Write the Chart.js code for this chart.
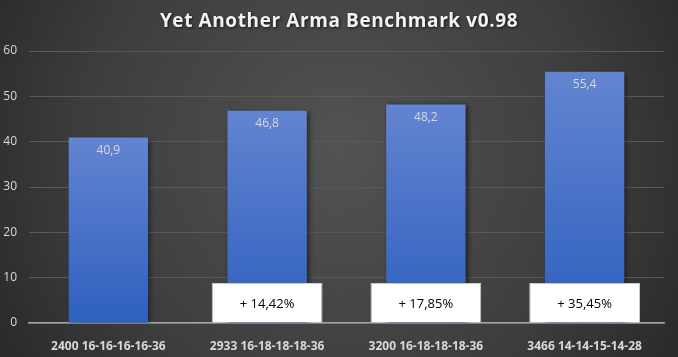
<!DOCTYPE html>
<html>
<head>
<meta charset="utf-8">
<script src="https://cdn.jsdelivr.net/npm/chart.js@4.4.1/dist/chart.umd.min.js"></script>
<style>
  html, body { margin: 0; padding: 0; background: #3a3a3a; }
  #wrap { width: 678px; height: 357px; position: relative; }
</style>
</head>
<body>
<div id="wrap"><canvas id="c" width="678" height="357"></canvas></div>
<script>
const titleText = 'Yet Another Arma Benchmark v0.98';
const categories = ['2400 16-16-16-16-36', '2933 16-18-18-18-36', '3200 16-18-18-18-36', '3466 14-14-15-14-28'];
const fpsValues = [40.9, 46.8, 48.2, 55.4];
const gainLabels = ['', '+ 14,42%', '+ 17,85%', '+ 35,45%'];
const gainBoxValues = [null, 8.8, 8.8, 8.8];
const yTicks = [0, 10, 20, 30, 40, 50, 60];

const fmt = v => v.toFixed(1).replace('.', ',');

const bgPlugin = {
  id: 'bg',
  beforeDraw(chart) {
    const { ctx, width, height } = chart;
    ctx.save();
    const g = ctx.createRadialGradient(width / 2, height * 0.42, 10, width / 2, height * 0.42, 420);
    g.addColorStop(0, '#525252');
    g.addColorStop(0.6, '#3d3d3d');
    g.addColorStop(1, '#262626');
    ctx.fillStyle = g;
    ctx.fillRect(0, 0, width, height);
    ctx.font = 'bold 19px "Open Sans"';
    ctx.letterSpacing = '0.6px';
    ctx.textAlign = 'center';
    ctx.textBaseline = 'middle';
    ctx.shadowColor = 'rgba(0,0,0,0.7)';
    ctx.shadowBlur = 3;
    ctx.shadowOffsetX = 1;
    ctx.shadowOffsetY = 1;
    ctx.fillStyle = '#f2f2f2';
    ctx.fillText(titleText, width / 2, 22);
    ctx.restore();
  }
};

const shadowPlugin = {
  id: 'barShadow',
  beforeDatasetDraw(chart, args) {
    if (args.index === 1) {
      const ctx = chart.ctx;
      ctx.save();
      ctx.shadowColor = 'rgba(0,0,0,0.55)';
      ctx.shadowBlur = 5;
      ctx.shadowOffsetX = 2;
      ctx.shadowOffsetY = 1;
    }
  },
  afterDatasetDraw(chart, args) {
    if (args.index === 1) chart.ctx.restore();
  }
};

const labelPlugin = {
  id: 'labels',
  afterDatasetsDraw(chart) {
    const ctx = chart.ctx;
    ctx.save();
    ctx.textAlign = 'center';
    ctx.textBaseline = 'middle';
    const blue = chart.getDatasetMeta(1);
    ctx.font = '12px "Open Sans"';
    ctx.fillStyle = '#d9d9d9';
    blue.data.forEach((bar, i) => {
      ctx.fillText(fmt(fpsValues[i]), bar.x, bar.y + 13);
    });
    const white = chart.getDatasetMeta(0);
    ctx.font = '13px "Open Sans"';
    ctx.fillStyle = '#000000';
    white.data.forEach((bar, i) => {
      if (gainBoxValues[i] == null) return;
      ctx.fillText(gainLabels[i], bar.x, (bar.y + bar.base) / 2 + 1);
    });
    ctx.restore();
  }
};

new Chart(document.getElementById('c'), {
  type: 'bar',
  data: {
    labels: categories,
    datasets: [
      {
        label: 'gain',
        data: gainBoxValues,
        backgroundColor: '#ffffff',
        borderColor: '#c8c8c8',
        borderWidth: 1,
        categoryPercentage: 1,
        barPercentage: 0.698,
        grouped: false,
        order: 0
      },
      {
        label: 'FPS',
        data: fpsValues,
        backgroundColor: (c) => {
          const chart = c.chart;
          const ys = chart.scales.y;
          if (!ys || !c.parsed) return '#4a74c8';
          const top = ys.getPixelForValue(c.parsed.y);
          const bottom = ys.getPixelForValue(0);
          if (!isFinite(top) || !isFinite(bottom) || top === bottom) return '#4a74c8';
          const g = chart.ctx.createLinearGradient(0, top, 0, bottom);
          g.addColorStop(0, '#6384d0');
          g.addColorStop(1, '#2e60bf');
          return g;
        },
        categoryPercentage: 1,
        barPercentage: 0.5,
        grouped: false,
        order: 1
      }
    ]
  },
  options: {
    responsive: false,
    animation: false,
    layout: { padding: { left: 0, right: 14, top: 51, bottom: 0 } },
    plugins: {
      legend: { display: false },
      tooltip: { enabled: false },
      title: { display: false }
    },
    scales: {
      x: {
        grid: { display: false },
        border: { display: true, color: '#a6a6a6', width: 1.5 },
        ticks: {
          color: '#d9d9d9',
          font: { family: '"Open Sans"', size: 12, weight: 'bold' },
          padding: 8,
          maxRotation: 0
        },
        afterFit(s) { s.height = 34; }
      },
      y: {
        min: 0,
        max: 60,
        afterBuildTicks(s) { s.ticks = yTicks.map(v => ({ value: v })); },
        grid: { color: '#595959', lineWidth: 1, drawTicks: false },
        border: { display: false },
        ticks: {
          color: '#d9d9d9',
          font: { family: '"Open Sans"', size: 12 },
          padding: 12
        },
        afterFit(s) { s.width = 29; }
      }
    }
  },
  plugins: [bgPlugin, shadowPlugin, labelPlugin]
});
</script>
</body>
</html>
